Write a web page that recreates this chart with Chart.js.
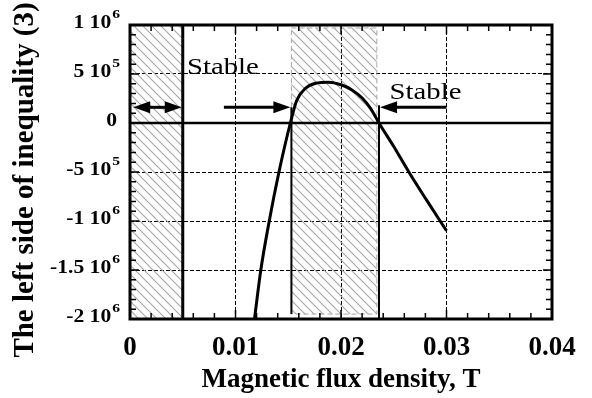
<!DOCTYPE html>
<html>
<head>
<meta charset="utf-8">
<script src="https://cdn.jsdelivr.net/npm/chart.js@4"></script>
<style>
  html, body { margin: 0; padding: 0; background: #fff; }
</style>
</head>
<body>
<canvas id="grafico" width="592" height="398"></canvas>
<script>
// values
const fluxDensity = [0.0118, 0.0124, 0.0132, 0.0141, 0.0152, 0.0158, 0.0166, 0.0176, 0.0188, 0.0200, 0.0210, 0.0220, 0.0228, 0.0236, 0.0250, 0.0264, 0.0281, 0.0300];
const leftSide = [-2.0e6, -1.5e6, -1.0e6, -5.1e5, 0, 2.3e5, 3.5e5, 4.05e5, 4.16e5, 3.9e5, 3.4e5, 2.55e5, 1.5e5, 0, -2.4e5, -4.95e5, -7.85e5, -1.1e6];

const xTickLabels = ['0', '0.01', '0.02', '0.03', '0.04'];
const yTickValues = [1e6, 5e5, 0, -5e5, -1e6, -1.5e6, -2e6];
const yTickBase = ['1 10', '5 10', '0', '-5 10', '-1 10', '-1.5 10', '-2 10'];
const yTickPower = ['6', '5', '', '5', '6', '6', '6'];

// hatched bands: [x from, x to, y top, y bottom]
const hatchBands = [[0, 0.005, 1e6, -2e6], [0.0153, 0.0234, 9.7e5, -1.95e6]];
// vertical boundary lines: [x, y top, y bottom]
const boundaryLines = [[0.005, 1e6, -2e6], [0.0153, 1.6e5, -1.95e6], [0.0236, 1.8e5, -2e6]];
// arrows: [x tail, x tip, y, both ends]
const arrows = [[0.0026, 0.0003, 1.6e5, true], [0.0089, 0.0152, 1.6e5, false], [0.0300, 0.0237, 1.6e5, false]];
// labels: [text, x, y]
const notes = [['Stable', 0.0054, 5.0e5], ['Stable', 0.0246, 2.5e5]];

const SERIF = '"Liberation Serif", "Times New Roman", serif';

function hatchPattern(ctx) {
  const s = 9;
  const c = document.createElement('canvas');
  c.width = s; c.height = s;
  const g = c.getContext('2d');
  g.strokeStyle = '#a6a6a6';
  g.lineWidth = 1.1;
  g.beginPath();
  g.moveTo(-1, -1); g.lineTo(s + 1, s + 1);
  g.moveTo(-1, s - 1); g.lineTo(1, s + 1);
  g.moveTo(s - 1, -1); g.lineTo(s + 1, 1);
  g.stroke();
  return ctx.createPattern(c, 'repeat');
}

function arrowHead(ctx, xTip, y, dir) {
  ctx.beginPath();
  ctx.moveTo(xTip, y);
  ctx.lineTo(xTip - dir * 17, y - 6);
  ctx.lineTo(xTip - dir * 17, y + 6);
  ctx.closePath();
  ctx.fill();
}

function stretchedText(ctx, text, x, y, sx) {
  ctx.save();
  ctx.translate(x, y);
  ctx.scale(sx, 1);
  ctx.fillText(text, 0, 0);
  ctx.restore();
}

const decor = {
  id: 'decor',
  beforeDatasetsDraw(chart) {
    const { ctx, scales: { x, y }, chartArea } = chart;
    ctx.save();
    ctx.fillStyle = hatchPattern(ctx);
    hatchBands.forEach(([x0, x1, y0, y1], i) => {
      const l = x.getPixelForValue(x0), r = x.getPixelForValue(x1);
      const t = y.getPixelForValue(y0), b = y.getPixelForValue(y1);
      ctx.fillRect(l, t, r - l, b - t);
      if (i > 0) {
        ctx.strokeStyle = '#a6a6a6';
        ctx.lineWidth = 1;
        ctx.setLineDash([5, 3]);
        ctx.strokeRect(l, t, r - l, b - t);
        ctx.setLineDash([]);
      }
    });
    // zero line
    const y0 = y.getPixelForValue(0);
    ctx.strokeStyle = '#000';
    ctx.lineWidth = 2.5;
    ctx.beginPath();
    ctx.moveTo(chartArea.left, y0);
    ctx.lineTo(chartArea.right, y0);
    ctx.stroke();
    ctx.restore();
  },
  afterDatasetsDraw(chart) {
    const { ctx, scales: { x, y } } = chart;
    ctx.save();
    ctx.strokeStyle = '#000';
    ctx.fillStyle = '#000';
    ctx.lineWidth = 3;
    arrows.forEach(([xa, xb, yv, both]) => {
      const pa = x.getPixelForValue(xa), pb = x.getPixelForValue(xb), py = y.getPixelForValue(yv);
      if (both) {
        const p2 = x.getPixelForValue(boundaryLines[0][0]) - 1;
        ctx.beginPath();
        ctx.moveTo(pb + 15, py); ctx.lineTo(p2 - 15, py);
        ctx.stroke();
        arrowHead(ctx, pb, py, -1);
        arrowHead(ctx, p2, py, 1);
      } else {
        const dir = pb > pa ? 1 : -1;
        ctx.beginPath();
        ctx.moveTo(pa, py); ctx.lineTo(pb - dir * 15, py);
        ctx.stroke();
        arrowHead(ctx, pb, py, dir);
      }
    });
    ctx.font = '23px ' + SERIF;
    ctx.textBaseline = 'alphabetic';
    ctx.textAlign = 'left';
    notes.forEach(([txt, xv, yv]) => {
      stretchedText(ctx, txt, x.getPixelForValue(xv), y.getPixelForValue(yv), 1.25);
    });
    ctx.restore();
  },
  afterDraw(chart) {
    const { ctx, scales: { x, y }, chartArea: a } = chart;
    ctx.save();
    ctx.strokeStyle = '#000';
    ctx.fillStyle = '#000';
    // inward ticks on all sides
    ctx.lineWidth = 1.5;
    ctx.beginPath();
    for (let k = 0; k <= 20; k++) {
      const px = x.getPixelForValue(k * 0.002);
      const len = k % 5 === 0 ? 9 : 6;
      ctx.moveTo(px, a.bottom); ctx.lineTo(px, a.bottom - len);
      ctx.moveTo(px, a.top); ctx.lineTo(px, a.top + len);
    }
    for (let k = -20; k <= 10; k++) {
      const py = y.getPixelForValue(k * 1e5);
      const len = k % 5 === 0 ? 9 : 6;
      ctx.moveTo(a.left, py); ctx.lineTo(a.left + len, py);
      ctx.moveTo(a.right, py); ctx.lineTo(a.right - len, py);
    }
    ctx.stroke();
    // frame
    ctx.lineWidth = 3;
    ctx.strokeRect(a.left, a.top, a.right - a.left, a.bottom - a.top);

    // y tick labels with powers of ten
    ctx.textAlign = 'left';
    ctx.textBaseline = 'alphabetic';
    yTickValues.forEach((v, i) => {
      const py = y.getPixelForValue(v) + 3;
      ctx.font = 'bold 18px ' + SERIF;
      const wb = ctx.measureText(yTickBase[i]).width * 1.2;
      ctx.font = 'bold 13px ' + SERIF;
      const wp = yTickPower[i] ? ctx.measureText(yTickPower[i]).width * 1.2 + 1 : 0;
      const right = a.left - (yTickPower[i] ? 10 : 13);
      const start = right - wb - wp;
      ctx.font = 'bold 18px ' + SERIF;
      stretchedText(ctx, yTickBase[i], start, py, 1.2);
      if (yTickPower[i]) {
        ctx.font = 'bold 13px ' + SERIF;
        stretchedText(ctx, yTickPower[i], start + wb + 1, py - 10.5, 1.2);
      }
    });

    // y axis title
    ctx.font = 'bold 29px ' + SERIF;
    ctx.textAlign = 'center';
    ctx.translate(33, 180);
    ctx.rotate(-Math.PI / 2);
    ctx.fillText('The left side of inequality (3)', 0, 0);
    ctx.restore();
  }
};

const ctx = document.getElementById('grafico').getContext('2d');

const curve = fluxDensity.map((b, i) => ({ x: b, y: leftSide[i] }));

const lineSets = boundaryLines.map(([bx, top, bottom], i) => ({
  data: [{ x: bx, y: top }, { x: bx, y: bottom }],
  showLine: true,
  borderColor: '#000',
  borderWidth: i === 0 ? 3 : 2,
  pointRadius: 0,
  order: 2
}));

const grafico = new Chart(ctx, {
  type: 'scatter',
  data: {
    datasets: [{
      data: curve,
      showLine: true,
      borderColor: '#000',
      borderWidth: 3,
      pointRadius: 0,
      cubicInterpolationMode: 'monotone',
      order: 1
    }, ...lineSets]
  },
  options: {
    responsive: false,
    animation: false,
    events: [],
    layout: { padding: { top: 25, right: 40, left: 0, bottom: 0 } },
    plugins: { legend: { display: false }, tooltip: { enabled: false } },
    scales: {
      x: {
        type: 'linear',
        min: 0,
        max: 0.04,
        ticks: {
          stepSize: 0.01,
          autoSkip: false,
          maxRotation: 0,
          padding: 13,
          color: '#000',
          font: { family: SERIF, size: 27, weight: 'bold' },
          callback: (v, i) => xTickLabels[i]
        },
        grid: { color: '#000', lineWidth: 1, drawTicks: false },
        border: { display: false, dash: [4, 2] },
        title: {
          display: true,
          text: 'Magnetic flux density, T',
          color: '#000',
          font: { family: SERIF, size: 27, weight: 'bold' },
          padding: { top: 0, bottom: 2 }
        },
        afterFit: s => { s.height = 79; }
      },
      y: {
        type: 'linear',
        min: -2e6,
        max: 1e6,
        ticks: { stepSize: 5e5, display: false },
        grid: { color: '#000', lineWidth: 1, drawTicks: false },
        border: { display: false, dash: [4, 2] },
        afterFit: s => { s.width = 130; }
      }
    }
  },
  plugins: [decor]
});
</script>
</body>
</html>
